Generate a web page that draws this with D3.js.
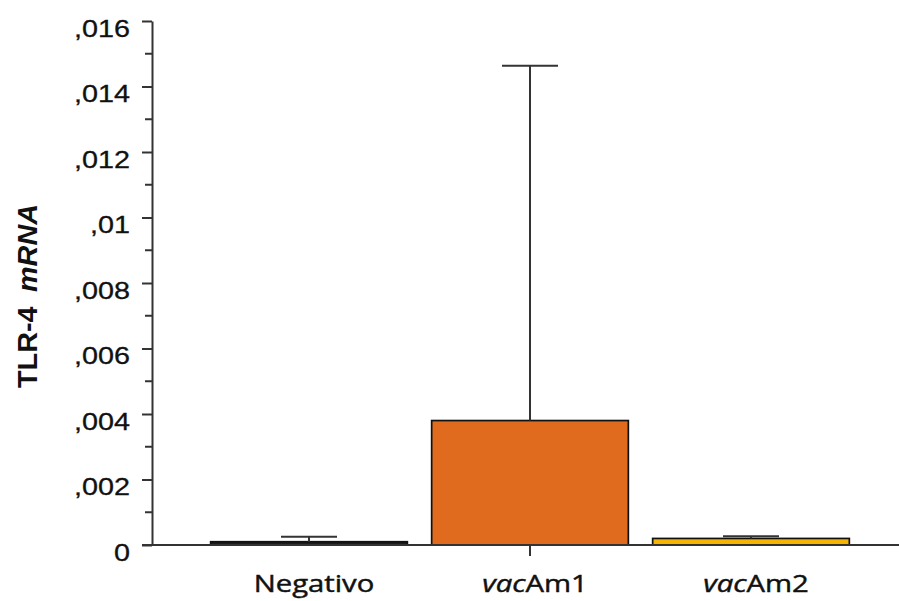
<!DOCTYPE html>
<html>
<head>
<meta charset="utf-8">
<script src="https://cdn.jsdelivr.net/npm/d3@7/dist/d3.min.js"></script>
<style>
  html, body { margin: 0; padding: 0; background: #fff; }
  svg { display: block; }
</style>
</head>
<body>
<svg id="chart" width="899" height="601"></svg>
<script>
// Relative TLR-4 mRNA expression per group (mean and upper error limit)
const categories = ["Negativo", "vacAm1", "vacAm2"];
const italicPrefix = ["", "vac", "vac"];
const means = [0.0001, 0.0038, 0.0002];
const upperErrors = [0.00025, 0.01463, 0.00027];
const barColors = ["#1c1c1c", "#E06B1F", "#F4B400"];
const majorTicks = [0, 0.002, 0.004, 0.006, 0.008, 0.010, 0.012, 0.014, 0.016];
const tickLabels = ["0", ",002", ",004", ",006", ",008", ",01", ",012", ",014", ",016"];
const minorTicks = [0.001, 0.003, 0.005, 0.007, 0.009, 0.011, 0.013, 0.015];

const svg = d3.select("#chart");
const axisColor = "#333";

const axisX = 152, plotRight = 899;
const y = d3.scaleLinear().domain([0, 0.016]).range([545, 21]);
const x = d3.scaleBand().domain(categories)
  .range([198.5, 861.5]).paddingInner(0.11).paddingOuter(0.055);

// Bars
svg.append("g").selectAll("rect").data(categories).join("rect")
  .attr("x", d => x(d))
  .attr("width", x.bandwidth())
  .attr("y", (d, i) => y(means[i]))
  .attr("height", (d, i) => y(0) - y(means[i]))
  .attr("fill", (d, i) => barColors[i])
  .attr("stroke", "#111")
  .attr("stroke-width", 1.7);

// Upper error bars
const capW = 56;
const err = svg.append("g").attr("stroke", axisColor).attr("stroke-width", 2);
categories.forEach((c, i) => {
  const cx = x(c) + x.bandwidth() / 2;
  err.append("line").attr("x1", cx).attr("x2", cx)
    .attr("y1", y(means[i])).attr("y2", y(upperErrors[i]));
  err.append("line").attr("x1", cx - capW / 2).attr("x2", cx + capW / 2)
    .attr("y1", y(upperErrors[i])).attr("y2", y(upperErrors[i]));
});

// Y axis: major ticks with labels, minor ticks without
const yAxis = svg.append("g").attr("transform", `translate(${axisX},0)`)
  .call(d3.axisLeft(y).tickValues(majorTicks).tickSize(10).tickSizeOuter(0)
    .tickFormat((d, i) => tickLabels[i]));
yAxis.select(".domain").attr("stroke", axisColor).attr("stroke-width", 2);
yAxis.selectAll(".tick line").attr("stroke", axisColor).attr("stroke-width", 2);
yAxis.selectAll(".tick text")
  .attr("x", null).attr("dy", null)
  .attr("transform", "translate(-22,15) scale(1.2,1.02)")
  .attr("fill", "#111")
  .attr("stroke", "#111").attr("stroke-width", 0.3)
  .style("font-family", "'Liberation Sans', Arial, sans-serif")
  .style("font-size", "24px");

svg.append("g").attr("transform", `translate(${axisX},0)`)
  .selectAll("line").data(minorTicks).join("line")
  .attr("x1", -7).attr("x2", 0)
  .attr("y1", d => y(d)).attr("y2", d => y(d))
  .attr("stroke", axisColor).attr("stroke-width", 2);

// Baseline
svg.append("line")
  .attr("x1", axisX - 10).attr("x2", plotRight)
  .attr("y1", y(0)).attr("y2", y(0))
  .attr("stroke", axisColor).attr("stroke-width", 2);

// Single category tick under the middle group
const midCat = categories[1];
svg.append("line")
  .attr("x1", x(midCat) + x.bandwidth() / 2).attr("x2", x(midCat) + x.bandwidth() / 2)
  .attr("y1", y(0)).attr("y2", y(0) + 11)
  .attr("stroke", axisColor).attr("stroke-width", 2);

// Category labels
categories.forEach((c, i) => {
  const cx = x(c) + x.bandwidth() / 2;
  const t = svg.append("text")
    .attr("transform", `translate(${cx + 5},592) scale(1.22,1)`)
    .attr("text-anchor", "middle")
    .attr("fill", "#111")
    .attr("stroke", "#111").attr("stroke-width", 0.45)
    .style("font-family", "'Open Sans', sans-serif")
    .style("font-size", "24px");
  const pre = italicPrefix[i];
  if (pre) t.append("tspan").style("font-style", "italic").text(pre);
  t.append("tspan").text(c.slice(pre.length));
});

// Y axis title
const yt = svg.append("text")
  .attr("transform", "translate(37,296) rotate(-90) scale(1.2,1.12)")
  .attr("text-anchor", "middle")
  .attr("fill", "#111")
  .style("font-family", "'Liberation Sans', Arial, sans-serif")
  .style("font-size", "24px")
  .style("font-weight", "bold");
yt.append("tspan").text("TLR-4");
yt.append("tspan").attr("dx", 12).style("font-style", "italic").text("mRNA");
</script>
</body>
</html>
